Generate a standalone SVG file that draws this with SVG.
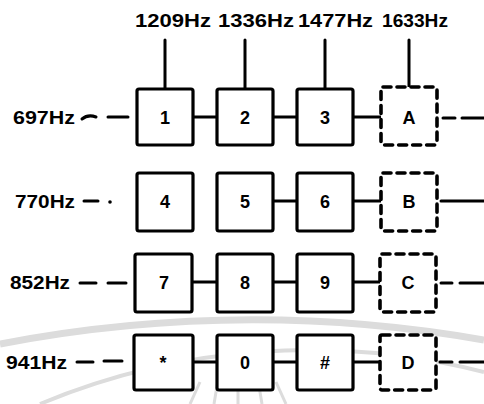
<svg xmlns="http://www.w3.org/2000/svg" width="484" height="404" viewBox="0 0 484 404">
  <style>
    .key { fill: #fff; stroke: #000; stroke-width: 3.2; stroke-linejoin: round; }
    .opt { fill: #fff; stroke: #000; stroke-width: 3.6; stroke-dasharray: 8 6; stroke-linecap: round; }
    .wire { fill: none; stroke: #000; stroke-width: 3; stroke-linecap: round; }
    .dash { fill: none; stroke: #000; stroke-width: 3; stroke-dasharray: 14 10; }
    .freq { font-family: "Liberation Sans", Arial, sans-serif; font-size: 18px; font-weight: bold; fill: #000; }
    .lbl { font-family: "Liberation Sans", Arial, sans-serif; font-size: 18px; font-weight: bold; fill: #000; text-anchor: middle; }
    .mark { fill: none; stroke: #dcdcdc; }
  </style>

  <rect width="484" height="404" fill="#fff"/>

  <!-- faint emblem arcs in the background -->
  <g id="emblem">
    <path class="mark" stroke-width="7" d="M 0 344 A 1342 1342 0 0 1 484 340"/>
    <path class="mark" stroke-width="4" d="M 40 404 A 700 700 0 0 1 484 372"/>
    <path class="mark" stroke-width="3" d="M 190 404 L 200 382 M 214 404 L 218 380 M 238 404 L 238 379 M 262 404 L 258 380 M 286 404 L 276 382"/>
  </g>

  <!-- column (high group) frequencies -->
  <g id="col-labels">
    <text class="freq" x="135" y="27" textLength="76" lengthAdjust="spacingAndGlyphs">1209Hz</text>
    <text class="freq" x="218" y="27" textLength="76" lengthAdjust="spacingAndGlyphs">1336Hz</text>
    <text class="freq" x="298" y="27" textLength="75" lengthAdjust="spacingAndGlyphs">1477Hz</text>
    <text class="freq" x="382" y="27" textLength="66" lengthAdjust="spacingAndGlyphs">1633Hz</text>
  </g>

  <!-- row (low group) frequencies -->
  <g id="row-labels">
    <text class="freq" x="13" y="124" textLength="62" lengthAdjust="spacingAndGlyphs">697Hz</text>
    <text class="freq" x="15" y="208" textLength="60" lengthAdjust="spacingAndGlyphs">770Hz</text>
    <text class="freq" x="10" y="289" textLength="60" lengthAdjust="spacingAndGlyphs">852Hz</text>
    <text class="freq" x="6" y="369" textLength="61" lengthAdjust="spacingAndGlyphs">941Hz</text>
  </g>

  <!-- connectors -->
  <g id="connectors">
    <!-- column feeds -->
    <path class="wire" d="M165 40 V89 M245 40 V89 M325 40 V89 M409 40 V87"/>
    <!-- row 1 -->
    <path class="wire" d="M82 119 Q88 114 96 117 M108 117 H128 M193 117 H217 M273 117 H297 M353 117 H381"/>
    <path class="wire" d="M443 118 H455 M462 118 H484"/>
    <!-- row 2 -->
    <path class="wire" d="M84 201 H98 M273 201 H297 M353 201 H381 M441 201 H484"/>
    <circle cx="110" cy="202" r="1.8"/>
    <!-- row 3 -->
    <path class="wire" d="M80 283 H96 M108 283 H126 M193 282 H217 M273 282 H297 M353 282 H381"/>
    <path class="wire" d="M441 283 H452 M460 283 H484"/>
    <!-- row 4 -->
    <path class="wire" d="M77 362 H93 M104 361 H122 M193 362 H217 M273 362 H297 M353 362 H381"/>
    <path class="wire" d="M440 362 H452 M460 362 H484"/>
  </g>

  <!-- keypad: 4x4 keys, last column optional (dashed) -->
  <g id="key-1"><rect class="key" x="137" y="89" width="56" height="56" rx="2"/><text class="lbl" x="165" y="124">1</text></g>
  <g id="key-2"><rect class="key" x="217" y="89" width="56" height="56" rx="2"/><text class="lbl" x="245" y="124">2</text></g>
  <g id="key-3"><rect class="key" x="297" y="89" width="56" height="56" rx="2"/><text class="lbl" x="325" y="124">3</text></g>
  <g id="key-A"><rect class="opt" x="381" y="87" width="56" height="58" rx="2"/><text class="lbl" x="409" y="124">A</text></g>

  <g id="key-4"><rect class="key" x="137" y="173" width="56" height="58" rx="2"/><text class="lbl" x="165" y="208">4</text></g>
  <g id="key-5"><rect class="key" x="217" y="173" width="56" height="58" rx="2"/><text class="lbl" x="245" y="208">5</text></g>
  <g id="key-6"><rect class="key" x="297" y="173" width="56" height="58" rx="2"/><text class="lbl" x="325" y="208">6</text></g>
  <g id="key-B"><rect class="opt" x="381" y="173" width="56" height="58" rx="2"/><text class="lbl" x="409" y="208">B</text></g>

  <g id="key-7"><rect class="key" x="135" y="254" width="57" height="58" rx="2"/><text class="lbl" x="164" y="289">7</text></g>
  <g id="key-8"><rect class="key" x="217" y="254" width="56" height="58" rx="2"/><text class="lbl" x="245" y="289">8</text></g>
  <g id="key-9"><rect class="key" x="297" y="254" width="56" height="58" rx="2"/><text class="lbl" x="325" y="289">9</text></g>
  <g id="key-C"><rect class="opt" x="380" y="254" width="56" height="58" rx="2"/><text class="lbl" x="408" y="289">C</text></g>

  <g id="key-star"><rect class="key" x="134" y="335" width="59" height="55" rx="2"/><text class="lbl" x="163" y="369">*</text></g>
  <g id="key-0"><rect class="key" x="217" y="335" width="56" height="55" rx="2"/><text class="lbl" x="245" y="369">0</text></g>
  <g id="key-hash"><rect class="key" x="297" y="335" width="56" height="55" rx="2"/><text class="lbl" x="325" y="369">#</text></g>
  <g id="key-D"><rect class="opt" x="380" y="335" width="56" height="55" rx="2"/><text class="lbl" x="408" y="369">D</text></g>
</svg>
